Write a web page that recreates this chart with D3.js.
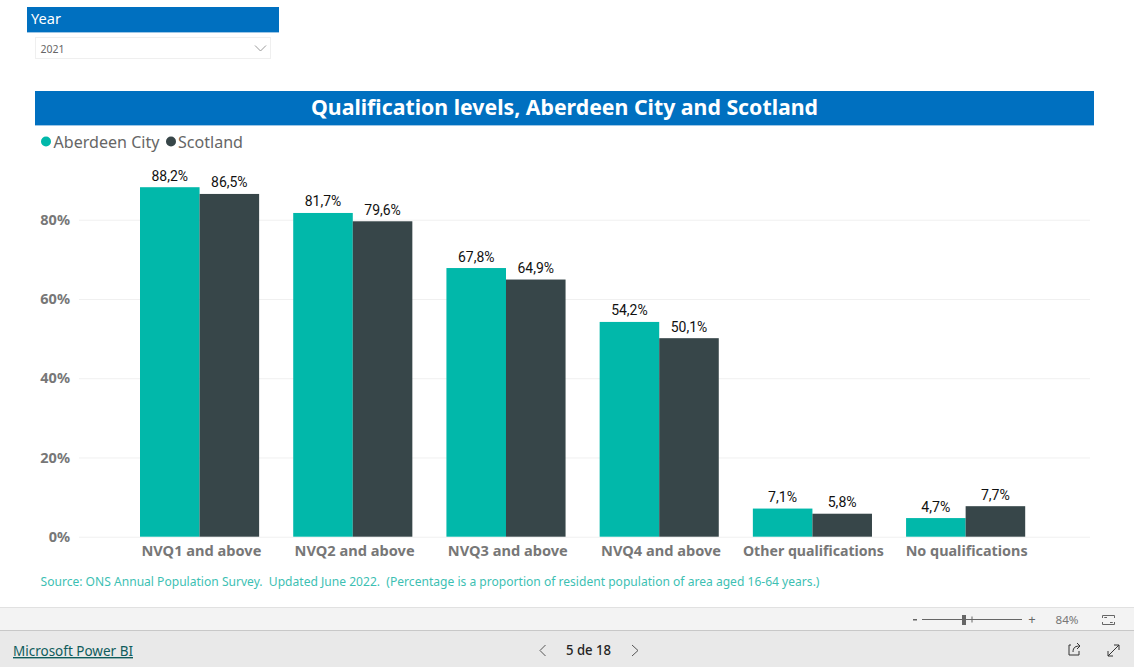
<!DOCTYPE html>
<html><head><meta charset="utf-8">
<script src="https://cdn.jsdelivr.net/npm/d3@7"></script>
<style>html,body{margin:0;padding:0;background:#fff;overflow:hidden}svg{display:block}text{font-family:"Noto Sans",sans-serif}</style>
</head><body><svg id="c" width="1134" height="667"></svg>
<script>
const categories=["NVQ1 and above","NVQ2 and above","NVQ3 and above","NVQ4 and above","Other qualifications","No qualifications"];
const seriesNames=["Aberdeen City","Scotland"];
const aberdeen=[88.2,81.7,67.8,54.2,7.1,4.7];
const scotland=[86.5,79.6,64.9,50.1,5.8,7.7];
const yTicks=[0,20,40,60,80];
const colors=["#01B8AA","#374649"];
const titleText="Qualification levels, Aberdeen City and Scotland";
const sourceText="Source: ONS Annual Population Survey.  Updated June 2022.  (Percentage is a proportion of resident population of area aged 16-64 years.)";

const svg=d3.select("#c");
const T=(x,y,s,size,fill,anchor,weight,len)=>{const t=svg.append("text").attr("x",x).attr("y",y).attr("font-size",size).attr("fill",fill).attr("text-anchor",anchor||"start").attr("font-weight",weight||400).attr("xml:space","preserve").style("white-space","pre").text(s);if(len)t.attr("textLength",len).attr("lengthAdjust","spacingAndGlyphs");return t;};
const R=(x,y,w,h,f,s)=>svg.append("rect").attr("x",x).attr("y",y).attr("width",w).attr("height",h).attr("fill",f).attr("stroke",s||"none");

// slicer
R(27,7,252,25,"#0070C0");
R(27,32,252,1,"#9DC6E6");
T(31,24,"Year",14.5,"#fff","start",400,30);
R(35.5,37.5,235,21,"#fff","#EFEFEF");
T(40.5,53,"2021",11,"#666","start",400,24);
svg.append("path").attr("d","M255 45.5L260.5 51L266 45.5").attr("fill","none").attr("stroke","#9a9a9a");

// title
R(35,91,1059,34,"#0070C0");
R(35,125,1059,1,"#9DC6E6");
T(564.5,115,titleText,20.5,"#fff","middle",700,507);

// legend
const lg=[[46,53.5,106],[171,178,65]];
seriesNames.forEach((n,i)=>{
  svg.append("circle").attr("cx",lg[i][0]).attr("cy",141.5).attr("r",5).attr("fill",colors[i]);
  T(lg[i][1],148,n,16,"#666","start",400,lg[i][2]);
});

// scales
const y=d3.scaleLinear().domain([0,80]).range([536.7,219.7]);
const x0=d3.scaleBand().domain(categories).range([123,1042.2]).paddingInner(0.2225).paddingOuter(0.111);
const x1=d3.scaleBand().domain(seriesNames).range([0,x0.bandwidth()]);

// grid and axes
const gy=svg.append("g").attr("transform","translate(79,0)").call(d3.axisLeft(y).tickValues(yTicks).tickSize(-1011).tickFormat(d=>d+"%"));
gy.select(".domain").remove();
gy.selectAll("line").attr("stroke","#F0F0F0");
gy.selectAll("text").attr("x",-9).attr("dy","0.32em").attr("font-size",14.5).attr("font-weight",700).attr("fill","#777").style("font-family",'"Noto Sans",sans-serif');

const pct=d3.formatLocale({decimal:",",thousands:".",grouping:[3],currency:["","€"]}).format(".1f");
[aberdeen,scotland].forEach((vals,i)=>{
  const g=svg.append("g");
  g.selectAll("rect").data(vals).join("rect")
    .attr("x",(d,j)=>x0(categories[j])+x1(seriesNames[i]))
    .attr("y",d=>y(d)).attr("width",x1.bandwidth()).attr("height",d=>y(0)-y(d)).attr("fill",colors[i]);
  g.selectAll("text").data(vals).join("text")
    .attr("x",(d,j)=>x0(categories[j])+x1(seriesNames[i])+x1.bandwidth()/2)
    .attr("y",d=>y(d)-6.5).attr("text-anchor","middle").attr("font-size",14).attr("fill","#111")
    .attr("textLength",d=>d>=10?36.5:29).attr("lengthAdjust","spacingAndGlyphs")
    .style("font-family","Roboto,sans-serif").text(d=>pct(d)+"%");
});

const gx=svg.append("g").attr("transform","translate(1,537)").call(d3.axisBottom(x0).tickSize(0));
gx.select(".domain").remove();
gx.selectAll("text").attr("y",0).attr("dy","19px").attr("font-size",14).attr("font-weight",700).attr("fill","#777").style("font-family",'"Noto Sans",sans-serif');
const xw=[120,120,120,120,141,122];
gx.selectAll("text").attr("x",(d,i)=>i<4?0.8:0).attr("textLength",(d,i)=>xw[i]).attr("lengthAdjust","spacingAndGlyphs");

T(40.5,586,sourceText,12.5,"#3DBFB3","start",400,779);

// footer
R(0,607,1134,23,"#F3F3F3"); R(0,607,1134,1,"#E1E1E1");
R(0,630,1134,37,"#E9E9E9"); R(0,630,1134,1,"#C8C8C8");
T(13,656,"Microsoft Power BI",14,"#0F5C5C","start",400,120).attr("text-decoration","underline");
T(588.5,655,"5 de 18",14.5,"#252423","middle",500,45);
const st="#555";
const P=(d,c,w)=>svg.append("path").attr("d",d).attr("fill","none").attr("stroke",c||st).attr("stroke-width",w||1);
P("M545.5 645L540 650.5L545.5 656");P("M632 645L638 650.5L632 656");
R(913,619,4,1.5,"#666");
R(922,619,100,1,"#666");R(962,615,4,10,"#666");R(971.5,616.5,1,6,"#666");
T(1032,624,"+",13,"#666","middle");
T(1067,624,"84%",11,"#777","middle",400,23);
P("M1102.5 618V615.5H1114.5V618M1102.5 622V624.5H1114.5V622","#666");
P("M1104.5 618V617.5H1107M1112.5 622V622.5H1110","#666");
P("M1071 645H1069V655H1079V651","#333");P("M1073 652C1073 647 1076 646 1080 646M1077 643L1080 646L1077 649","#333");
P("M1108 656L1119 645M1114 645H1119V650M1108 651V656H1113","#333");
</script></body></html>
